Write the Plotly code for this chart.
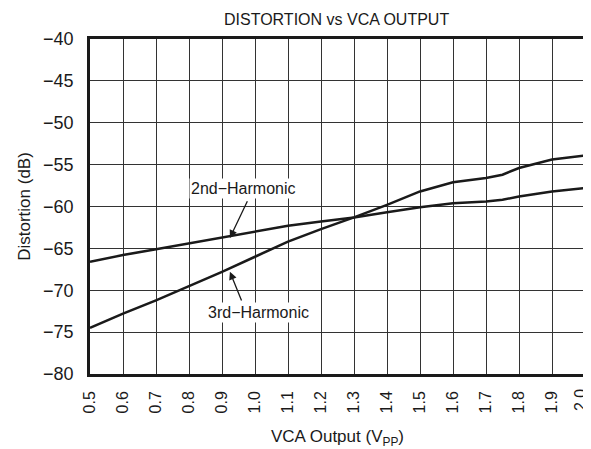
import plotly.graph_objects as go

x_vals = [0.5, 0.6, 0.7, 0.8, 0.9, 1.0, 1.1, 1.2, 1.3, 1.4, 1.5, 1.6, 1.7, 1.75, 1.8, 1.9, 2.0]
second_harm = [-66.6, -65.8, -65.1, -64.4, -63.7, -63.0, -62.3, -61.8, -61.3, -60.7, -60.1, -59.6, -59.4, -59.2, -58.8, -58.2, -57.8]
third_harm = [-74.5, -72.8, -71.2, -69.5, -67.8, -66.0, -64.2, -62.7, -61.3, -59.8, -58.2, -57.1, -56.6, -56.2, -55.4, -54.4, -53.9]
x_ticks = [0.5, 0.6, 0.7, 0.8, 0.9, 1.0, 1.1, 1.2, 1.3, 1.4, 1.5, 1.6, 1.7, 1.8, 1.9, 2.0]
x_tick_labels = ["0.5", "0.6", "0.7", "0.8", "0.9", "1.0", "1.1", "1.2", "1.3", "1.4", "1.5", "1.6", "1.7", "1.8", "1.9", "2.0"]
y_ticks = [-80, -75, -70, -65, -60, -55, -50, -45, -40]
y_tick_labels = ["\u221280", "\u221275", "\u221270", "\u221265", "\u221260", "\u221255", "\u221250", "\u221245", "\u221240"]
labels = ["2nd\u2212Harmonic", "3rd\u2212Harmonic"]

font_family = "Liberation Sans, Arial, sans-serif"
ink = "#1a1a1a"

fig = go.Figure()
fig.add_trace(go.Scatter(x=x_vals, y=second_harm, mode="lines",
                         line=dict(color=ink, width=2.5), showlegend=False))
fig.add_trace(go.Scatter(x=x_vals, y=third_harm, mode="lines",
                         line=dict(color=ink, width=2.5), showlegend=False))

# arrows (no text)
fig.add_annotation(x=0.924, y=-63.75, ax=0.979, ay=-59.2, xref="x", yref="y", axref="x", ayref="y",
                   text="", showarrow=True, arrowhead=2, arrowsize=1.2,
                   arrowwidth=1.3, arrowcolor=ink)
fig.add_annotation(x=0.924, y=-67.8, ax=0.961, ay=-71.4, xref="x", yref="y", axref="x", ayref="y",
                   text="", showarrow=True, arrowhead=2, arrowsize=1.2,
                   arrowwidth=1.3, arrowcolor=ink)
# labels
fig.add_annotation(x=0.964, y=-57.8, xref="x", yref="y", text=labels[0], showarrow=False,
                   font=dict(family=font_family, size=16, color=ink), bgcolor="white")
fig.add_annotation(x=1.012, y=-72.7, xref="x", yref="y", text=labels[1], showarrow=False,
                   font=dict(family=font_family, size=16, color=ink), bgcolor="white")

# last x tick label drawn slightly inset (as in the reference) so it stays fully visible
tick_text = x_tick_labels[:-1] + [""]
fig.add_annotation(x=x_ticks[-1], y=0, xref="x", yref="paper", text=x_tick_labels[-1],
                   showarrow=False, textangle=-90, xanchor="center", yanchor="top",
                   xshift=-5, yshift=-14, borderpad=0,
                   font=dict(family=font_family, size=16, color=ink))

fig.update_layout(
    width=591, height=441,
    margin=dict(l=82, r=14, t=31, b=75),
    paper_bgcolor="white", plot_bgcolor="white",
    font=dict(family=font_family, size=16, color=ink),
    title=dict(text="DISTORTION vs VCA OUTPUT", x=0.556, xanchor="center", y=0.975, yanchor="middle",
               font=dict(size=16, family=font_family, color=ink)),
)
fig.update_xaxes(range=[0.5, 2.0], tickvals=x_ticks, ticktext=tick_text, tickangle=-90,
                 showgrid=True, gridcolor="#333333", gridwidth=1,
                 showline=True, linecolor=ink, linewidth=2.5, mirror=True,
                 ticks="", zeroline=False, tickfont=dict(size=16),
                 ticklabelstandoff=8, automargin=False,
                 title=dict(text="VCA Output (V<sub>PP</sub>)", font=dict(size=17), standoff=20))
fig.update_yaxes(range=[-80, -40], tickvals=y_ticks, ticktext=y_tick_labels,
                 showgrid=True, gridcolor="#333333", gridwidth=1,
                 showline=True, linecolor=ink, linewidth=2.5, mirror=True,
                 ticks="", zeroline=False, tickfont=dict(size=18),
                 ticklabelstandoff=10, automargin=False,
                 title=dict(text="Distortion (dB)", font=dict(size=17), standoff=9))

fig.write_html("out.html")
